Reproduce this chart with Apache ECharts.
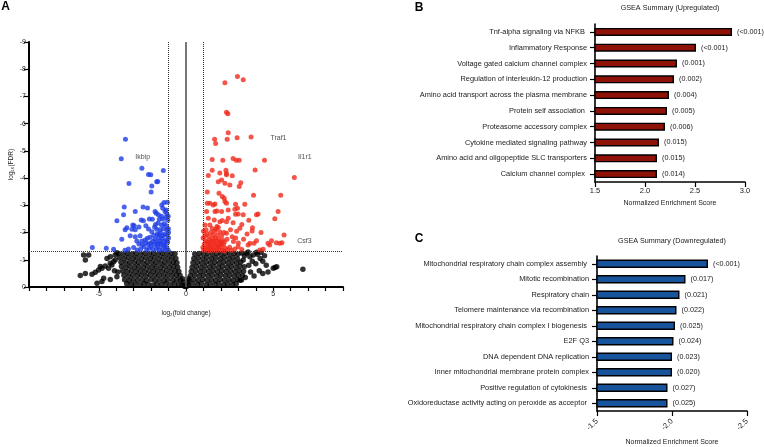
<!DOCTYPE html>
<html><head><meta charset="utf-8">
<script src="https://cdn.jsdelivr.net/npm/echarts@6/dist/echarts.min.js"></script>
<style>html,body{margin:0;padding:0;background:#fff}#c{width:764px;height:447px}</style>
</head><body><div id="c"></div>
<script>
// ---------- Volcano plot data: [log2 fold change, -log10 FDR] ----------
const volcanoNS = [
 // left cloud
 [-3.40,0.12],[-3.14,0.09],[-2.91,0.11],[-2.63,0.08],[-2.41,0.12],[-2.16,0.10],[-1.89,0.07],[-1.66,0.11],[-1.41,0.09],[-1.14,0.12],[-0.91,0.08],[-0.66,0.11],[-0.42,0.09],[-0.22,0.07],
 [-3.52,0.27],[-3.26,0.24],[-3.03,0.28],[-2.77,0.25],[-2.51,0.27],[-2.28,0.24],[-2.01,0.28],[-1.78,0.25],[-1.52,0.27],[-1.26,0.24],[-1.03,0.28],[-0.76,0.25],[-0.53,0.27],[-0.31,0.25],
 [-3.56,0.43],[-3.29,0.40],[-3.06,0.44],[-2.79,0.41],[-2.56,0.43],[-2.29,0.40],[-2.06,0.44],[-1.79,0.41],[-1.56,0.43],[-1.29,0.40],[-1.06,0.44],[-0.79,0.41],[-0.56,0.43],[-0.34,0.42],
 [-3.63,0.59],[-3.36,0.56],[-3.13,0.60],[-2.86,0.57],[-2.63,0.59],[-2.36,0.56],[-2.13,0.60],[-1.86,0.57],[-1.63,0.59],[-1.36,0.56],[-1.13,0.60],[-0.86,0.57],[-0.63,0.59],[-0.41,0.57],
 [-3.70,0.75],[-3.44,0.72],[-3.21,0.76],[-2.94,0.73],[-2.71,0.75],[-2.44,0.72],[-2.21,0.76],[-1.94,0.73],[-1.71,0.75],[-1.44,0.72],[-1.21,0.76],[-0.94,0.73],[-0.71,0.75],[-0.48,0.73],
 [-3.73,0.91],[-3.46,0.88],[-3.23,0.92],[-2.96,0.89],[-2.73,0.91],[-2.46,0.88],[-2.23,0.92],[-1.96,0.89],[-1.73,0.91],[-1.46,0.88],[-1.23,0.92],[-0.96,0.89],[-0.73,0.91],[-0.52,0.89],
 [-3.81,1.07],[-3.54,1.04],[-3.31,1.08],[-3.04,1.05],[-2.81,1.07],[-2.54,1.04],[-2.31,1.08],[-2.04,1.05],[-1.81,1.07],[-1.54,1.04],[-1.31,1.08],[-1.04,1.05],[-0.81,1.07],[-0.58,1.05],
 [-3.86,1.23],[-3.59,1.20],[-3.36,1.24],[-3.09,1.21],[-2.86,1.23],[-2.59,1.20],[-2.36,1.24],[-2.09,1.21],[-1.86,1.23],[-1.59,1.20],[-1.36,1.24],[-1.09,1.21],[-0.86,1.23],[-0.63,1.22],
 [-0.10,0.04],[-0.14,0.18],[-0.20,0.30],[-0.05,0.02],
 // left outliers
 [-6.06,0.42],[-5.77,0.50],[-5.39,0.47],[-5.20,0.54],[-5.01,0.62],[-4.91,0.75],[-4.82,0.69],[-4.63,0.77],[-4.44,0.69],[-4.34,0.87],[-4.25,0.81],[-4.15,0.93],[-4.06,0.99],
 [-5.87,1.18],[-5.77,0.99],[-5.58,1.18],[-4.53,1.05],[-4.34,1.11],[-4.06,1.18],[-3.97,1.26],[-4.72,0.32],[-4.34,0.28],[-3.96,0.38],[-5.10,0.14],[-4.82,0.20],[-3.90,0.55],[-4.10,0.60],
 // right cloud
 [0.14,0.08],[0.39,0.11],[0.66,0.09],[0.89,0.12],[1.16,0.08],[1.39,0.11],[1.66,0.09],[1.89,0.12],[2.16,0.08],[2.39,0.11],[2.66,0.09],[2.88,0.12],
 [0.20,0.25],[0.46,0.27],[0.70,0.24],[0.96,0.28],[1.20,0.25],[1.46,0.27],[1.70,0.24],[1.96,0.28],[2.20,0.25],[2.46,0.27],[2.70,0.24],[2.96,0.28],[3.18,0.26],
 [0.25,0.41],[0.50,0.43],[0.76,0.40],[1.00,0.44],[1.26,0.41],[1.50,0.43],[1.76,0.40],[2.00,0.44],[2.26,0.41],[2.50,0.43],[2.76,0.40],[3.00,0.44],[3.24,0.42],
 [0.30,0.57],[0.56,0.59],[0.80,0.56],[1.06,0.60],[1.30,0.57],[1.56,0.59],[1.80,0.56],[2.06,0.60],[2.30,0.57],[2.56,0.59],[2.80,0.56],[3.06,0.60],[3.30,0.58],
 [0.35,0.73],[0.60,0.75],[0.86,0.72],[1.10,0.76],[1.36,0.73],[1.60,0.75],[1.86,0.72],[2.10,0.76],[2.36,0.73],[2.60,0.75],[2.86,0.72],[3.10,0.76],[3.34,0.74],
 [0.40,0.89],[0.66,0.91],[0.90,0.88],[1.16,0.92],[1.40,0.89],[1.66,0.91],[1.90,0.88],[2.16,0.92],[2.40,0.89],[2.66,0.91],[2.90,0.88],[3.14,0.92],
 [0.45,1.05],[0.70,1.07],[0.96,1.04],[1.20,1.08],[1.46,1.05],[1.70,1.07],[1.96,1.04],[2.20,1.08],[2.46,1.05],[2.70,1.07],[2.94,1.04],
 [0.50,1.21],[0.76,1.23],[1.00,1.20],[1.26,1.24],[1.50,1.21],[1.76,1.23],[2.00,1.20],[2.26,1.24],[2.50,1.21],[2.76,1.23],[2.98,1.20],
 [0.05,0.03],[0.10,0.16],[0.15,0.30],
 // right outliers
 [6.70,0.65],[5.00,0.69],[5.10,0.72],[5.20,0.74],[4.60,0.80],[4.40,0.95],[4.25,1.05],[4.10,1.20],[4.30,1.28],[4.50,1.15],[3.85,1.18],[3.66,1.11],[3.47,1.24],[3.56,1.29],
 [3.28,0.99],[4.00,0.85],[4.20,0.60],[4.40,0.50],[3.90,0.40],[3.70,0.55],[4.70,0.55],[3.60,0.80],[3.80,0.95],[4.05,1.28],[3.20,1.25],[3.35,1.15],[3.10,0.25],[3.40,0.35]
];
const volcanoUp = [
 [2.95,7.73],[3.28,7.61],[2.23,7.50],[2.32,6.42],[2.40,6.36],[2.42,5.67],[1.64,5.43],[1.70,5.27],[2.36,5.43],[2.93,5.48],[3.73,5.51],
 [1.50,4.68],[2.11,4.66],[2.70,4.72],[2.88,4.66],[3.05,4.66],[4.50,4.66],[3.96,4.30],[1.50,4.29],[2.29,4.29],[1.94,4.19],[2.32,4.17],[2.32,4.12],[1.28,4.10],[2.65,4.09],[6.21,4.02],
 [1.85,3.87],[2.04,3.93],[2.23,3.81],[2.51,3.75],[3.14,3.83],[3.05,3.69],[1.22,3.49],[1.89,3.44],[2.08,3.32],[2.19,3.26],[2.23,3.14],[2.32,3.08],[3.87,3.37],[5.43,3.37],
 [1.22,3.08],[1.37,3.08],[1.56,3.01],[1.66,3.05],[2.84,3.04],[3.37,3.04],[1.18,2.77],[1.66,2.77],[1.77,2.79],[2.04,2.77],[2.42,2.83],[2.80,2.86],[2.95,2.89],
 [2.84,2.67],[2.99,2.68],[3.28,2.65],[4.04,2.65],[4.13,2.68],[5.28,2.77],[1.28,2.53],[1.62,2.46],[2.42,2.53],[5.09,2.51],[1.94,2.40],[2.08,2.44],[2.32,2.40],[2.70,2.36],
 [1.09,2.28],[1.37,2.28],[1.77,2.22],[1.85,2.19],[3.09,2.16],[3.81,2.18],[3.79,2.06],[2.32,1.97],[2.65,1.85],[2.72,1.67],[5.62,1.91],[4.90,1.70],[5.18,1.63],[5.37,1.61],
 [5.50,1.63],[4.70,1.61],[4.80,1.54],[4.04,1.70],[3.90,1.61],[3.56,1.54],[3.66,1.61],[2.99,1.48],[4.23,1.36],[4.42,1.39],
 [1.02,1.35],[1.10,1.42],[1.18,1.36],[1.25,1.50],[1.05,1.58],[1.32,1.40],[1.40,1.55],[1.48,1.38],[1.55,1.47],[1.62,1.36],[1.70,1.52],[1.78,1.41],[1.85,1.60],[1.92,1.37],
 [2.00,1.48],[2.08,1.35],[2.15,1.55],[2.25,1.42],[2.38,1.38],[2.50,1.46],[1.12,1.70],[1.22,1.65],[1.35,1.72],[1.45,1.66],[1.52,1.78],[1.60,1.68],[1.68,1.80],[1.75,1.70],
 [1.88,1.75],[1.98,1.66],[2.10,1.72],[2.20,1.65],[2.35,1.75],[1.08,1.88],[1.20,1.95],[1.30,1.85],[1.42,2.00],[1.55,1.92],[1.65,2.05],[1.80,1.90],[1.95,2.02],[2.05,1.88],
 [2.18,2.00],[1.15,2.10],[1.50,2.15],[1.72,2.12],[1.40,1.45],[1.60,1.58],[1.85,1.48],[2.05,1.60],[1.28,1.58],[1.95,1.55],[1.35,1.32],[1.75,1.33],[2.20,1.32],[2.60,1.35],
 [2.80,1.40],[3.20,1.38],[3.00,1.62],[2.85,1.80],[3.30,1.75],[3.50,1.95],[2.55,2.10],[3.20,2.30],[2.90,2.05],[3.60,2.45],[4.30,2.00],[0.97,1.45],[0.98,1.80],[1.00,2.05]
];
const volcanoDown = [
 [-3.47,5.43],[-3.71,4.71],[-2.53,4.36],[-1.30,4.28],[-2.15,4.13],[-2.02,4.12],[-1.68,3.87],[-1.62,3.88],[-3.27,3.80],[-1.96,3.71],[-2.00,3.49],
 [-1.26,3.10],[-1.07,3.11],[-1.39,3.01],[-1.33,2.89],[-1.14,2.83],[-3.54,2.94],[-2.91,2.77],[-2.46,2.94],[-2.21,2.90],[-1.77,2.77],[-1.71,2.71],[-1.58,2.65],[-3.58,2.65],
 [-1.20,2.77],[-1.10,2.68],[-1.02,2.60],[-3.96,2.43],[-2.57,2.46],[-2.44,2.43],[-2.10,2.50],[-1.93,2.49],[-1.53,2.49],[-1.34,2.50],[-1.05,2.45],
 [-3.39,2.18],[-3.05,2.28],[-2.97,2.25],[-3.49,2.10],[-3.10,2.12],[-2.91,2.10],[-2.15,2.13],[-1.96,2.03],[-1.68,2.12],[-1.49,2.10],[-1.30,2.14],[-1.10,2.10],[-1.01,2.14],
 [-3.20,1.88],[-2.91,1.85],[-2.63,1.88],[-2.21,1.79],[-2.06,1.83],[-3.68,1.75],[-2.82,1.69],[-2.53,1.69],[-2.34,1.73],[-5.37,1.45],[-4.57,1.42],[-4.15,1.39],
 [-1.02,1.35],[-1.10,1.45],[-1.18,1.38],[-1.26,1.52],[-1.35,1.40],[-1.44,1.55],[-1.52,1.36],[-1.60,1.48],[-1.70,1.40],[-1.80,1.55],[-1.90,1.38],[-2.00,1.50],
 [-2.12,1.42],[-2.25,1.36],[-2.40,1.48],[-2.60,1.40],[-2.80,1.36],[-3.00,1.45],[-3.30,1.40],[-3.50,1.35],[-1.05,1.65],[-1.15,1.72],[-1.25,1.68],[-1.38,1.80],
 [-1.48,1.70],[-1.58,1.82],[-1.68,1.66],[-1.78,1.76],[-1.90,1.68],[-2.02,1.62],[-2.15,1.58],[-2.30,1.62],[-1.08,1.90],[-1.20,1.95],[-1.32,1.88],[-1.45,1.98],
 [-1.55,1.92],[-1.65,1.95],[-1.85,1.90],[-1.12,2.25],[-1.25,2.32],[-1.40,2.28],[-1.60,2.35],[-1.75,2.30],[-1.20,1.55],[-1.45,1.62],[-1.65,1.58],[-1.00,1.80],
 [-1.00,2.00],[-2.70,1.58],[-2.50,1.55],[-1.15,2.55],[-1.40,2.60],[-1.80,2.20],[-2.30,2.25],[-2.70,2.20]
];
const geneNames = ['Traf1','Il1r1','Ikbip','Csf3'];
const geneX = [4.84, 6.42, -2.91, 6.38];
const geneY = [5.47, 4.79, 4.79, 1.70];
const fcCut = [-1, 1];
const fdrCut = 1.3;

// ---------- GSEA (upregulated) ----------
const upTerms = ['Tnf-alpha signaling via NFKB ','Inflammatory Response','Voltage gated calcium channel complex','Regulation of interleukin-12 production','Amino acid transport across the plasma membrane','Protein self association ','Proteasome accessory complex','Cytokine mediated signaling pathway','Amino acid and oligopeptide SLC transporters','Calcium channel complex '];
const upNES = [2.87, 2.51, 2.32, 2.29, 2.24, 2.22, 2.20, 2.14, 2.12, 2.12];
const upFDR = ['(<0.001)','(<0.001)','(0.001)','(0.002)','(0.004)','(0.005)','(0.006)','(0.015)','(0.015)','(0.014)'];

// ---------- GSEA (downregulated) ----------
const downTerms = ['Mitochondrial respiratory chain complex assembly ','Mitotic recombination','Respiratory chain','Telomere maintenance via recombination','Mitochondrial respiratory chain complex I biogenesis ','E2F Q3','DNA dependent DNA replication','Inner mitochondrial membrane protein complex','Positive regulation of cytokinesis ','Oxidoreductase activity acting on peroxide as acceptor '];
const downNES = [-2.24, -2.09, -2.05, -2.03, -2.02, -2.01, -2.00, -2.00, -1.97, -1.97];
const downFDR = ['(<0.001)','(0.017)','(0.021)','(0.022)','(0.025)','(0.024)','(0.023)','(0.020)','(0.027)','(0.025)'];

const FONT = '"Liberation Sans", Arial, Helvetica, sans-serif';
const chart = echarts.init(document.getElementById('c'));

function txt(text, x, y, size, bold, align) {
  return {type:'text', x:x, y:y, style:{text:text, fontSize:size, fontWeight:bold?'bold':'normal', fontFamily:FONT, fill:bold?'#000':'#1a1a1a', textAlign:align||'center', textVerticalAlign:'middle'}};
}
const blackAxis = {show:true, lineStyle:{color:'#000', width:1.6}};
const blackTick = {show:true, length:5, lineStyle:{color:'#000', width:1.2}};

const option = {
  animation:false,
  textStyle:{fontFamily:FONT},
  graphic:[
    txt('A', 5.5, 7, 12, true),
    txt('B', 419, 7.5, 12, true),
    txt('C', 419, 239, 12, true),
    txt('GSEA Summary (Upregulated)', 670, 8.5, 7.2, false),
    txt('GSEA Summary (Downregulated)', 672, 241, 7.2, false)
  ],
  grid:[
    {left:29, top:42, width:314, height:245},
    {left:595, top:24, width:150, height:158},
    {left:597, top:256, width:150, height:157}
  ],
  xAxis:[
    {type:'value', gridIndex:0, min:-9, max:9, interval:1,
     axisLine:{show:true, onZero:false, lineStyle:{color:'#000', width:2}},
     axisTick:{show:true, length:4, lineStyle:{color:'#000', width:1.2}},
     axisLabel:{fontSize:7, color:'#222', margin:4, formatter:v => (v % 5 === 0 ? String(v) : '')},
     splitLine:{show:false},
     name:'log₂(fold change)', nameLocation:'middle', nameGap:23, nameTextStyle:{fontSize:6.5, color:'#222'}},
    {type:'value', gridIndex:1, min:1.5, max:3.0, interval:0.5,
     axisLine:blackAxis, axisTick:blackTick,
     axisLabel:{fontSize:7.5, color:'#1a1a1a', margin:5, formatter:v => v.toFixed(1)},
     splitLine:{show:false},
     name:'Normalized Enrichment Score', nameLocation:'middle', nameGap:18, nameTextStyle:{fontSize:7, color:'#1a1a1a'}},
    {type:'value', gridIndex:2, min:-2.5, max:-1.5, interval:0.5, inverse:true,
     axisLine:blackAxis, axisTick:blackTick,
     axisLabel:{fontSize:7.5, color:'#1a1a1a', margin:9, rotate:45, formatter:v => v.toFixed(1)},
     splitLine:{show:false},
     name:'Normalized Enrichment Score', nameLocation:'middle', nameGap:28, nameTextStyle:{fontSize:7, color:'#1a1a1a'}}
  ],
  yAxis:[
    {type:'value', gridIndex:0, min:0, max:9, interval:1,
     axisLine:{show:true, onZero:false, lineStyle:{color:'#000', width:2}},
     axisTick:{show:true, length:5, lineStyle:{color:'#000', width:1.2}},
     axisLabel:{fontSize:7, color:'#222', margin:3, formatter:v => (v === 0 ? '0' : '-' + v)},
     splitLine:{show:false},
     name:'log₁₀(FDR)', nameLocation:'middle', nameRotate:90, nameGap:14, nameTextStyle:{fontSize:6.5, color:'#222'}},
    {type:'category', gridIndex:1, data:upTerms, inverse:true,
     axisLine:blackAxis, axisTick:{show:true, alignWithLabel:true, length:5, lineStyle:{color:'#000', width:1.2}},
     axisLabel:{fontSize:7.4, color:'#1a1a1a', margin:8}},
    {type:'category', gridIndex:2, data:downTerms, inverse:true,
     axisLine:blackAxis, axisTick:{show:true, alignWithLabel:true, length:5, lineStyle:{color:'#000', width:1.2}},
     axisLabel:{fontSize:7.4, color:'#1a1a1a', margin:8}}
  ],
  series:[
    {type:'scatter', xAxisIndex:0, yAxisIndex:0, data:volcanoNS, symbolSize:5.5, itemStyle:{color:'#000'}, silent:true,
     markLine:{silent:true, symbol:'none', label:{show:false},
       data:[
         {xAxis:fcCut[0], lineStyle:{type:'dotted', color:'#333', width:1}},
         {xAxis:fcCut[1], lineStyle:{type:'dotted', color:'#333', width:1}},
         {xAxis:0, lineStyle:{type:'solid', color:'#555', width:1.6}},
         {yAxis:fdrCut, lineStyle:{type:'dotted', color:'#333', width:1}}
       ]}},
    {type:'scatter', xAxisIndex:0, yAxisIndex:0, data:volcanoUp, symbolSize:5, itemStyle:{color:'#f02a1c'}, silent:true},
    {type:'scatter', xAxisIndex:0, yAxisIndex:0, data:volcanoDown, symbolSize:5, itemStyle:{color:'#1f3de6'}, silent:true},
    {type:'scatter', xAxisIndex:0, yAxisIndex:0, symbolSize:0, silent:true,
     data:geneNames.map((n,i) => ({name:n, value:[geneX[i], geneY[i]]})),
     label:{show:true, position:'right', distance:0, formatter:p => p.name, fontSize:7, color:'#222'}},
    {type:'bar', xAxisIndex:1, yAxisIndex:1, data:upNES, barWidth:8, clip:true,
     itemStyle:{color:'#8e1208', borderColor:'#000', borderWidth:1.4},
     label:{show:true, position:'right', distance:5, fontSize:7.2, color:'#1a1a1a', formatter:p => upFDR[p.dataIndex]}},
    {type:'bar', xAxisIndex:2, yAxisIndex:2, data:downNES, barWidth:8.5, clip:true,
     itemStyle:{color:'#17549b', borderColor:'#000', borderWidth:1.4},
     label:{show:true, position:'right', distance:5, fontSize:7.2, color:'#1a1a1a', formatter:p => downFDR[p.dataIndex]}}
  ]
};
chart.setOption(option);
</script></body></html>
